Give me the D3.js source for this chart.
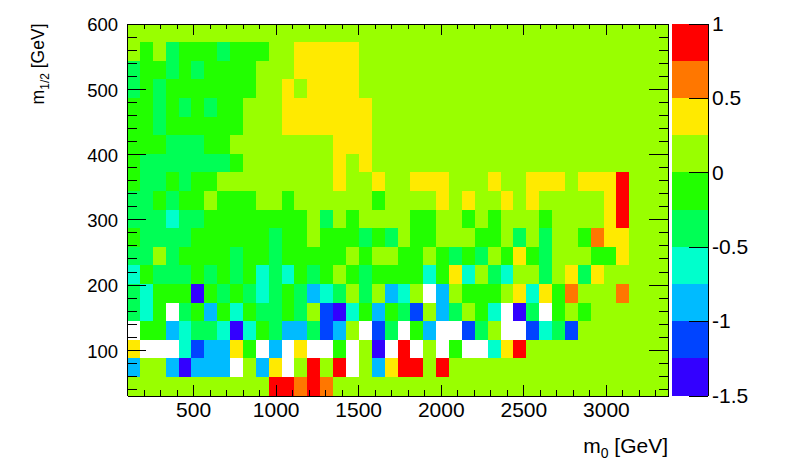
<!DOCTYPE html>
<html><head><meta charset="utf-8">
<script src="https://cdn.jsdelivr.net/npm/d3@7"></script>
<style>
body{margin:0;background:#fff}
svg{display:block}
text{font-family:"Liberation Sans",Arial,Helvetica,sans-serif;fill:#000}
</style>
</head><body>
<svg id="c" width="796" height="472"></svg>
<script>
// ---- data ----
const m0Edges = [100,178,256,334,412,490,568,646,724,802,880,958,1036,1114,1192,1270,1348,1426,1504,1582,1660,1738,1816,1894,1972,2050,2128,2206,2284,2362,2440,2518,2596,2674,2752,2830,2908,2986,3064,3142,3220,3298,3376];
// rows listed from the top (high m1/2) to the bottom
const m12Edges = [600,571.5,543,514.5,486,457.5,429,400.5,372,343.5,315,286.5,258,229.5,201,172.5,144,115.5,87,58.5,30];
const zRows = [
[0,0,0,0,0,0,0,0,0,0,0,0,0,0,0,0,0,0,0,0,0,0,0,0,0,0,0,0,0,0,0,0,0,0,0,0,0,0,0,0,0,0],
[0,-.1,0,-.4,-.1,-.1,-.1,-.4,-.1,-.1,-.1,0,0,.4,.4,.4,.4,.4,0,0,0,0,0,0,0,0,0,0,0,0,0,0,0,0,0,0,0,0,0,0,0,0],
[-.4,-.1,-.1,-.4,-.1,-.4,-.1,-.1,-.1,-.1,0,0,0,.4,.4,.4,.4,.4,0,0,0,0,0,0,0,0,0,0,0,0,0,0,0,0,0,0,0,0,0,0,0,0],
[-.4,-.1,-.4,-.1,-.1,-.1,-.1,-.1,-.1,-.1,0,0,.4,0,.4,.4,.4,.4,0,0,0,0,0,0,0,0,0,0,0,0,0,0,0,0,0,0,0,0,0,0,0,0],
[-.1,-.1,-.4,-.1,-.4,-.1,-.4,-.1,-.1,0,0,0,.4,.4,.4,.4,.4,.4,.4,0,0,0,0,0,0,0,0,0,0,0,0,0,0,0,0,0,0,0,0,0,0,0],
[-.1,-.1,-.4,-.1,-.1,-.1,-.1,-.1,-.1,0,0,0,.4,.4,.4,.4,.4,.4,.4,0,0,0,0,0,0,0,0,0,0,0,0,0,0,0,0,0,0,0,0,0,0,0],
[-.1,-.1,-.1,-.4,-.4,-.4,-.1,-.1,0,0,0,0,0,0,0,0,.4,.4,.4,0,0,0,0,0,0,0,0,0,0,0,0,0,0,0,0,0,0,0,0,0,0,0],
[-.1,-.4,-.4,-.4,-.4,-.4,-.4,-.4,-.1,0,0,0,0,0,0,0,.4,0,.4,0,0,0,0,0,0,0,0,0,0,0,0,0,0,0,0,0,0,0,0,0,0,0],
[-.1,-.4,-.4,-.1,-.4,-.1,-.1,0,0,0,0,0,0,0,0,0,.4,0,0,.4,0,0,.4,.4,.4,0,0,0,.4,0,0,.4,.4,.4,0,.4,.4,.4,.9,0,0,0],
[-.4,-.4,-.1,-.4,-.1,-.1,0,-.1,-.1,-.1,0,0,-.1,0,0,0,0,0,0,-.1,0,0,0,0,.4,0,.4,0,0,.4,0,.4,0,0,0,0,0,.4,.9,0,0,0],
[-.4,-.4,-.4,-.6,-.4,-.4,-.1,-.1,-.1,-.1,-.1,-.1,-.1,-.1,0,-.4,0,-.1,0,0,0,0,-.1,-.1,0,0,-.1,0,-.1,0,0,0,-.1,0,0,0,0,.4,.9,0,0,0],
[-.1,-.4,-.4,-.4,-.4,-.1,-.1,-.1,-.1,-.1,-.1,-.4,-.1,-.1,0,-.1,-.1,-.1,-.4,-.1,-.4,0,-.1,-.1,0,0,0,-.1,-.1,0,-.4,0,-.4,0,0,-.1,.6,.4,.4,0,0,0],
[-.4,-.4,0,-.4,-.1,-.1,-.1,-.1,-.4,-.1,-.1,-.4,-.1,-.1,-.1,-.1,-.1,0,-.1,0,0,-.1,-.1,0,-.1,-.4,-.1,-.4,0,-.1,.4,-.1,-.4,0,0,0,-.1,-.1,.4,0,0,0],
[-.6,-.1,-.4,-.4,-.4,-.1,-.4,-.1,-.4,-.1,-.6,-.4,-.6,-.1,-.4,-.1,0,-.1,-.4,-.1,-.1,-.1,-.1,-.6,-.1,.4,-.6,0,-.4,-.6,0,0,-.4,0,.4,-.4,.4,0,0,0,0,0],
[-.4,-.6,-.1,-.1,-.1,-1.4,-.1,-.4,-.1,-.4,-.6,-.4,-.1,-.4,-.9,-.6,-.4,0,-.4,0,-.9,-.6,0,-2,-.9,0,-.1,-.1,-.1,0,.4,-.6,.4,-.1,.6,0,0,0,.6,0,0,0],
[-.4,-.6,-.1,-2,-.4,-.1,-.9,-.1,-.6,-.1,-.4,-.4,-.1,-.4,0,-1.1,-1.4,-.6,-.1,-.9,-.1,-.4,-1.1,0,-.9,-.4,0,-.1,-.6,-2,-1.4,-.4,-2,-.1,0,-.1,0,0,0,0,0,0],
[-2,-.1,-.1,-.9,-.6,-.4,-.4,-.6,-1.4,-.6,-.1,-.4,-.9,-.9,-.4,-1.1,-.9,0,-2,-1.1,-.4,-2,-.1,-.9,-2,-2,-1.1,-.4,0,-2,-2,-1.1,-.6,-.4,-1.1,0,0,0,0,0,0,0],
[.4,-2,-2,-2,-.6,-1.1,-.9,-.9,.4,-.1,-2,-.9,-2,.4,-2,-2,-.1,-2,0,-1.4,-2,.9,-2,0,-2,-.1,-2,-2,-.6,.4,.9,0,0,0,0,0,0,0,0,0,0,0],
[-.9,0,0,-.9,-1.4,-.9,-.9,-.9,-2,0,-.9,.4,-2,0,.9,0,.9,-2,0,-.9,.4,.9,.9,0,.9,0,0,0,0,0,0,0,0,0,0,0,0,0,0,0,0,0],
[0,0,0,0,0,0,0,0,0,0,0,.9,.9,.6,.9,.6,0,0,0,0,0,0,0,0,0,0,0,0,0,0,0,0,0,0,0,0,0,0,0,0,0,0]
];
const zLevels = [-1.5,-1.25,-1,-0.75,-0.5,-0.25,0,0.25,0.5,0.75,1];
const zColors = ["#3300ff","#0044ff","#00bbff","#00ffcc","#00ff55","#22ff00","#99ff00","#ffea00","#ff7700","#ff0000"];
const m0Major = [500,1000,1500,2000,2500,3000];
const m12Major = [100,200,300,400,500,600];
const zTicks = [-1.5,-1,-0.5,0,0.5,1];

// ---- layout ----
const L = 127, R = 668, T = 23.5, B = 395.5;
const svg = d3.select("#c");
const x = d3.scaleLinear().domain([m0Edges[0], m0Edges[m0Edges.length-1]]).range([L, R]);
const y = d3.scaleLinear().domain([m12Edges[m12Edges.length-1], m12Edges[0]]).range([B, T]);
const color = d3.scaleThreshold().domain(zLevels.slice(1, -1)).range(zColors);
const zMin = zLevels[0];

// cells
const cells = [];
zRows.forEach((row, ri) => row.forEach((v, ci) => {
  cells.push({x0: m0Edges[ci], x1: m0Edges[ci+1], y0: m12Edges[ri+1], y1: m12Edges[ri], v});
}));
svg.append("g").attr("shape-rendering","crispEdges")
  .selectAll("rect").data(cells.filter(d => d.v >= zMin)).join("rect")
  .attr("x", d => x(d.x0)).attr("width", d => x(d.x1) - x(d.x0))
  .attr("y", d => y(d.y1)).attr("height", d => y(d.y0) - y(d.y1))
  .attr("fill", d => color(d.v));

// axes
const fsX = 21, fsY = 18.5, fsZ = 21;
function styleAxis(g){ g.selectAll("path,line").attr("stroke","#000").attr("stroke-width",1); g.attr("shape-rendering","crispEdges"); }
const m0Minor = d3.range(200, 3400, 100).filter(v => v % 500 !== 0);
const m12Minor = d3.range(40, 600, 20).filter(v => v % 100 !== 0);

const xb = svg.append("g").attr("transform",`translate(0,${B})`)
  .call(d3.axisBottom(x).tickValues(m0Major).tickSize(-11).tickSizeOuter(0).tickPadding(7).tickFormat(d => String(d)));
xb.selectAll("text").attr("font-size", fsX).attr("font-family",null);
styleAxis(xb);
const xbm = svg.append("g").attr("transform",`translate(0,${B})`)
  .call(d3.axisBottom(x).tickValues(m0Minor).tickSize(-5.5).tickSizeOuter(0).tickFormat(""));
styleAxis(xbm); xbm.select("path").remove();
const xt = svg.append("g").attr("transform",`translate(0,${T})`)
  .call(d3.axisTop(x).tickValues(m0Major).tickSize(-11).tickSizeOuter(0).tickFormat(""));
styleAxis(xt);
const xtm = svg.append("g").attr("transform",`translate(0,${T})`)
  .call(d3.axisTop(x).tickValues(m0Minor).tickSize(-5.5).tickSizeOuter(0).tickFormat(""));
styleAxis(xtm); xtm.select("path").remove();

const yl = svg.append("g").attr("transform",`translate(${L},0)`)
  .call(d3.axisLeft(y).tickValues(m12Major).tickSize(-19).tickSizeOuter(0).tickPadding(9).tickFormat(d => String(d)));
yl.selectAll("text").attr("font-size", fsY).attr("font-family",null).attr("dy","0.4em");
styleAxis(yl);
const ylm = svg.append("g").attr("transform",`translate(${L},0)`)
  .call(d3.axisLeft(y).tickValues(m12Minor).tickSize(-9.5).tickSizeOuter(0).tickFormat(""));
styleAxis(ylm); ylm.select("path").remove();
const yr = svg.append("g").attr("transform",`translate(${R},0)`)
  .call(d3.axisRight(y).tickValues(m12Major).tickSize(-19).tickSizeOuter(0).tickFormat(""));
styleAxis(yr);
const yrm = svg.append("g").attr("transform",`translate(${R},0)`)
  .call(d3.axisRight(y).tickValues(m12Minor).tickSize(-9.5).tickSizeOuter(0).tickFormat(""));
styleAxis(yrm); yrm.select("path").remove();

// titles
const xtT = svg.append("text").attr("x", R).attr("y", 453).attr("text-anchor","end").attr("font-size", fsX);
xtT.append("tspan").text("m");
xtT.append("tspan").attr("font-size", 14).attr("dy", 5).text("0");
xtT.append("tspan").attr("dy", -5).text(" [GeV]");
const ytT = svg.append("text").attr("transform",`translate(44,${T}) rotate(-90)`).attr("text-anchor","end").attr("font-size", 17.5);
ytT.append("tspan").text("m");
ytT.append("tspan").attr("font-size", 12).attr("dy", 4.5).text("1/2");
ytT.append("tspan").attr("dy", -4.5).text(" [GeV]");

// colour bar
const CL = 672, CR = 708;
const cb = d3.scaleLinear().domain([zLevels[0], zLevels[zLevels.length-1]]).range([B, T]);
const bands = zColors.map((c, i) => ({lo: zLevels[i], hi: zLevels[i+1], c}));
svg.append("g").attr("shape-rendering","crispEdges").selectAll("rect").data(bands).join("rect")
  .attr("x", CL).attr("width", CR - CL)
  .attr("y", d => cb(d.hi)).attr("height", d => cb(d.lo) - cb(d.hi))
  .attr("fill", d => d.c);
const ca = svg.append("g").attr("transform",`translate(${CR},0)`)
  .call(d3.axisRight(cb).tickValues(zTicks).tickSize(-19).tickSizeOuter(0).tickPadding(4).tickFormat(d => String(d)));
ca.selectAll("text").attr("font-size", fsZ).attr("font-family",null);
styleAxis(ca);
</script>
</body></html>
